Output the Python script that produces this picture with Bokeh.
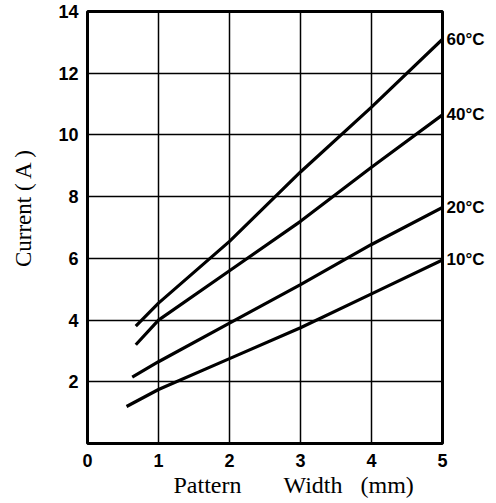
from bokeh.plotting import figure
from bokeh.models import Range1d, FixedTicker, LinearAxis, Title
from bokeh.embed import file_html
from bokeh.resources import INLINE

# Data
x_60 = [0.68, 1.0, 2.0, 3.0, 4.0, 5.0]
y_60 = [3.8, 4.55, 6.55, 8.8, 10.9, 13.1]
x_40 = [0.68, 1.0, 2.0, 3.0, 4.0, 5.0]
y_40 = [3.2, 4.0, 5.6, 7.2, 8.95, 10.65]
x_20 = [0.63, 1.0, 2.0, 3.0, 4.0, 5.0]
y_20 = [2.15, 2.65, 3.9, 5.15, 6.45, 7.65]
x_10 = [0.55, 1.0, 2.0, 3.0, 4.0, 5.0]
y_10 = [1.2, 1.75, 2.75, 3.75, 4.85, 5.95]

series_names = ["60°C", "40°C", "20°C", "10°C"]
x_ticks = [0, 1, 2, 3, 4, 5]
y_ticks = [2, 4, 6, 8, 10, 12, 14]

p = figure(width=496, height=503, output_backend="svg", toolbar_location=None,
           x_range=Range1d(0, 5), y_range=Range1d(0, 14))
p.min_border_left = 87
p.min_border_right = 54
p.min_border_top = 11
p.min_border_bottom = 60
p.background_fill_color = "white"
p.border_fill_color = "white"
p.outline_line_color = "black"
p.outline_line_width = 3
p.outline_line_alpha = 1.0

for ax in (p.xaxis, p.yaxis):
    ax.axis_line_color = None
    ax.major_tick_line_color = None
    ax.minor_tick_line_color = None
    ax.major_label_text_font = "Liberation Sans"
    ax.major_label_text_font_size = "18px"
    ax.major_label_text_font_style = "bold"
    ax.major_label_text_color = "black"

p.xaxis.ticker = FixedTicker(ticks=x_ticks)
p.yaxis.ticker = FixedTicker(ticks=y_ticks)
p.xaxis.major_label_standoff = 4
p.yaxis.major_label_standoff = 3

# y-axis title (leading no-break spaces shift the visible text upward a bit)
p.yaxis.axis_label = "\u00a0" * 7 + "Current ( A )"
p.yaxis.axis_label_text_font = "Liberation Serif"
p.yaxis.axis_label_text_font_size = "23px"
p.yaxis.axis_label_text_font_style = "normal"
p.yaxis.axis_label_text_color = "black"
p.yaxis.axis_label_standoff = 19

p.xgrid.ticker = FixedTicker(ticks=x_ticks)
p.ygrid.ticker = FixedTicker(ticks=y_ticks)
for g in (p.xgrid, p.ygrid):
    g.grid_line_color = "black"
    g.grid_line_width = 1.5
    g.grid_line_alpha = 1.0

xs_all = [x_60, x_40, x_20, x_10]
ys_all = [y_60, y_40, y_20, y_10]
for xs, ys in zip(xs_all, ys_all):
    p.line(xs, ys, line_color="black", line_width=3.2)

# Temperature labels as a right-side axis placed at each curve's end value
end_vals = [ys[-1] for ys in ys_all]
right_ax = LinearAxis(ticker=FixedTicker(ticks=end_vals),
                      major_label_overrides={v: n for v, n in zip(end_vals, series_names)})
right_ax.axis_line_color = None
right_ax.major_tick_line_color = None
right_ax.minor_tick_line_color = None
right_ax.major_label_standoff = -2
right_ax.major_label_text_font = "Liberation Sans"
right_ax.major_label_text_font_size = "17px"
right_ax.major_label_text_font_style = "bold"
right_ax.major_label_text_color = "black"
p.add_layout(right_ax, "right")

# x-axis title
p.add_layout(Title(text="Pattern\u00a0\u00a0\u00a0\u00a0\u00a0\u00a0\u00a0Width\u00a0\u00a0\u00a0(mm)",
                   align="left", offset=86,
                   text_font="Liberation Serif", text_font_size="24px",
                   text_font_style="normal", text_color="black", standoff=0), "below")

open("out.html", "w").write(file_html(p, INLINE))
